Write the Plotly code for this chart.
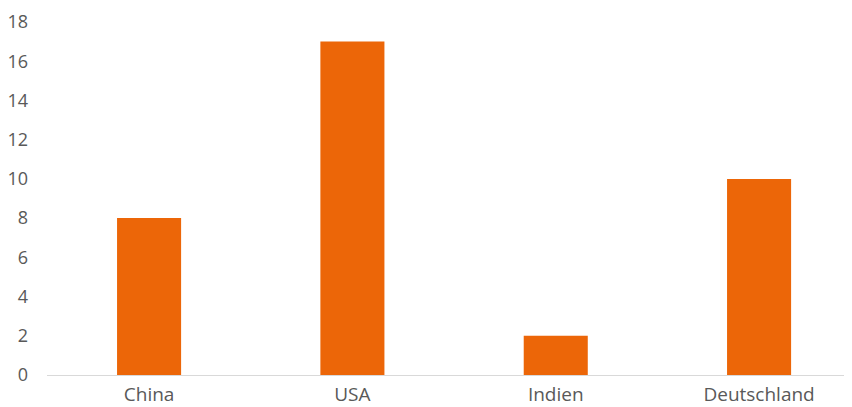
import plotly.graph_objects as go

categories = ["China", "USA", "Indien", "Deutschland"]
values = [8, 17, 2, 10]
y_ticks = [0, 2, 4, 6, 8, 10, 12, 14, 16, 18]

fig = go.Figure(go.Bar(
    x=categories, y=values,
    marker=dict(color="#EC6608", line=dict(width=0)),
    width=0.315,
))

fig.update_layout(
    width=844, height=399,
    margin=dict(l=39, r=0, t=14, b=32),
    paper_bgcolor="white", plot_bgcolor="white",
    showlegend=False,
    font=dict(family="Open Sans", size=18, color="#595959"),
)
fig.update_xaxes(
    type="category", range=[-0.502, 3.457],
    showline=True, linecolor="#D9D9D9", linewidth=1,
    showgrid=False, ticks="", zeroline=False,
    ticklabelstandoff=2, automargin=False,
    tickfont=dict(size=19, color="#595959"),
)
fig.update_yaxes(
    range=[0, 18], tickvals=y_ticks,
    showgrid=False, zeroline=False, showline=False, ticks="",
    ticklabelstandoff=18, automargin=False,
    tickfont=dict(size=18, color="#595959"),
)

fig.write_html("out.html")
